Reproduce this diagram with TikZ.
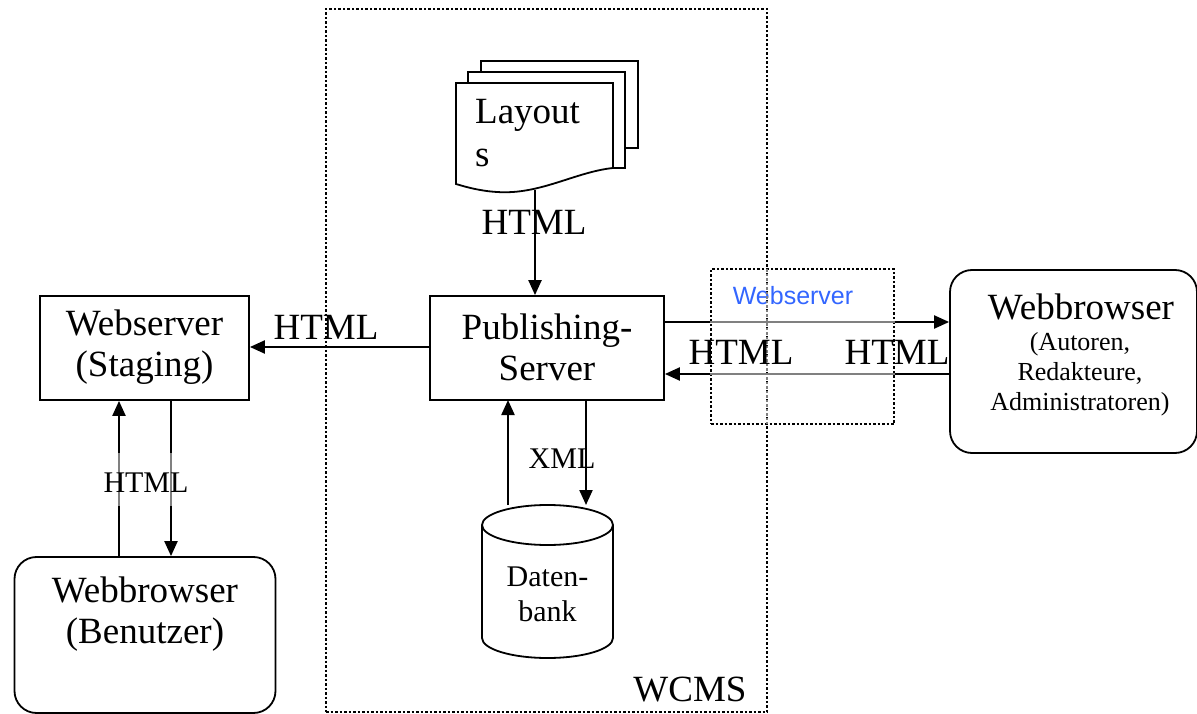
\documentclass[tikz,border=0pt]{standalone}
\usepackage{fontspec}
\setmainfont{Liberation Serif}
\newfontfamily\sansf{Liberation Sans}
\usetikzlibrary{arrows.meta,calc}
\definecolor{wsblue}{RGB}{51,102,255}
\definecolor{graylink}{RGB}{128,128,128}
\tikzset{
  box/.style={draw, line width=1.8pt, fill=white, inner sep=0pt},
  roundbox/.style={box, rounded corners=22pt},
  dotbox/.style={draw, line width=2.2pt, dash pattern=on 2.5pt off 2pt, inner sep=0pt},
  arr/.style={line width=2.2pt, -{Triangle[length=15pt,width=13pt]}},
  ln/.style={line width=2.2pt},
  big/.style={font=\fontsize{37}{41}\selectfont, align=center, inner sep=0pt},
  mid/.style={font=\fontsize{30}{35}\selectfont, align=center, inner sep=0pt},
  small/.style={font=\fontsize{26}{30}\selectfont, align=center, inner sep=0pt},
}
\begin{document}
\begin{tikzpicture}[x=1pt,y=1pt]
\useasboundingbox (0,0) rectangle (1197,-714);
% WCMS dotted frame
\node[dotbox, minimum width=441pt, minimum height=703pt] (wcms) at (546.5,-360.5) {};
\node[big, anchor=center] (wcmslbl) at (690,-690) {WCMS};
% Layout documents
\draw[box] (481,-61) rectangle (638,-148);
\draw[box] (468,-72) rectangle (625,-168);
\draw[box] (456,-83) -- (613,-83) -- (613,-168)
   .. controls (575,-172) and (540,-195) .. (497,-192)
   .. controls (480,-191) and (466,-187) .. (456,-184) -- cycle;
\node[big, anchor=west] (lay1) at (475,-115) {Layout};
\node[big, anchor=west] (lay2) at (475,-158) {s};
\coordinate (layb) at (535,-190);
% main boxes
\node[box, minimum width=209pt, minimum height=104pt] (stag) at (144.5,-348) {};
\node[big] (stagt) at (144.5,-347) {Webserver\\(Staging)};
\node[box, minimum width=234pt, minimum height=104pt] (pub) at (547,-348) {};
\node[big] (pubt) at (547,-347) {Publishing-\\Server};
\node[roundbox, minimum width=247pt, minimum height=183pt] (wbr) at (1073.5,-361.5) {};
\node[big, anchor=center] (wbrt) at (1081,-307) {Webbrowser};
\node[small, anchor=north] (wbrs) at (1080,-332) {(Autoren,\\Redakteure,\\Administratoren)};
\node[roundbox, minimum width=261pt, minimum height=156pt] (ben) at (145,-635) {};
\node[big] (bent) at (145,-614) {Webbrowser\\(Benutzer)};
% inner webserver frame
\node[dotbox, minimum width=183pt, minimum height=155pt] (ws) at (802.5,-346.5) {};
\node[font=\sansf\fontsize{25}{28}\selectfont, text=wsblue, inner sep=0pt] (wslbl) at (793,-296) {Webserver};
% database cylinder
\draw[box] (482,-525) -- (482,-638) arc[start angle=180, end angle=360, x radius=65.5, y radius=20] -- (613,-525);
\draw[box] (547.5,-525) ellipse[x radius=65.5, y radius=20];
\node[mid] (db) at (547.5,-594) {Daten-\\bank};
\coordinate (dbtop) at (547.5,-505);
% connectors
\draw[arr] (layb) -- (layb |- pub.north);
\node[big] (h1) at (534,-222) {HTML};
\draw[arr] (pub.west |- 0,-347) -- (stag.east |- 0,-347);
\node[big] (h2) at (326,-327) {HTML};
\draw[arr] (pub.east |- 0,-322) -- (wbr.west |- 0,-322);
\draw[arr] (wbr.west |- 0,-374) -- (pub.east |- 0,-374);
\draw[ln, graylink] (ws.west |- 0,-322) -- (ws.east |- 0,-322);
\draw[ln, graylink] (ws.west |- 0,-374) -- (ws.east |- 0,-374);
\draw[graylink, line width=2.2pt, dash pattern=on 2.5pt off 2pt] (767,-269) -- (767,-424);
\node[big] (h3) at (741,-352) {HTML};
\node[big] (h4) at (897,-352) {HTML};
\draw[arr] (508,-505) -- (508,-400);
\draw[arr] (586,-400) -- (586,-505);
\node[mid] (xml) at (562,-459) {XML};
\draw[arr] (ben.north -| 119,0) -- (stag.south -| 119,0);
\draw[arr] (stag.south -| 171,0) -- (ben.north -| 171,0);
\draw[ln, graylink] (119,-453) -- (119,-506);
\draw[ln, graylink] (171,-453) -- (171,-506);
\node[mid] (h5) at (146,-483) {HTML};
\end{tikzpicture}
\end{document}
